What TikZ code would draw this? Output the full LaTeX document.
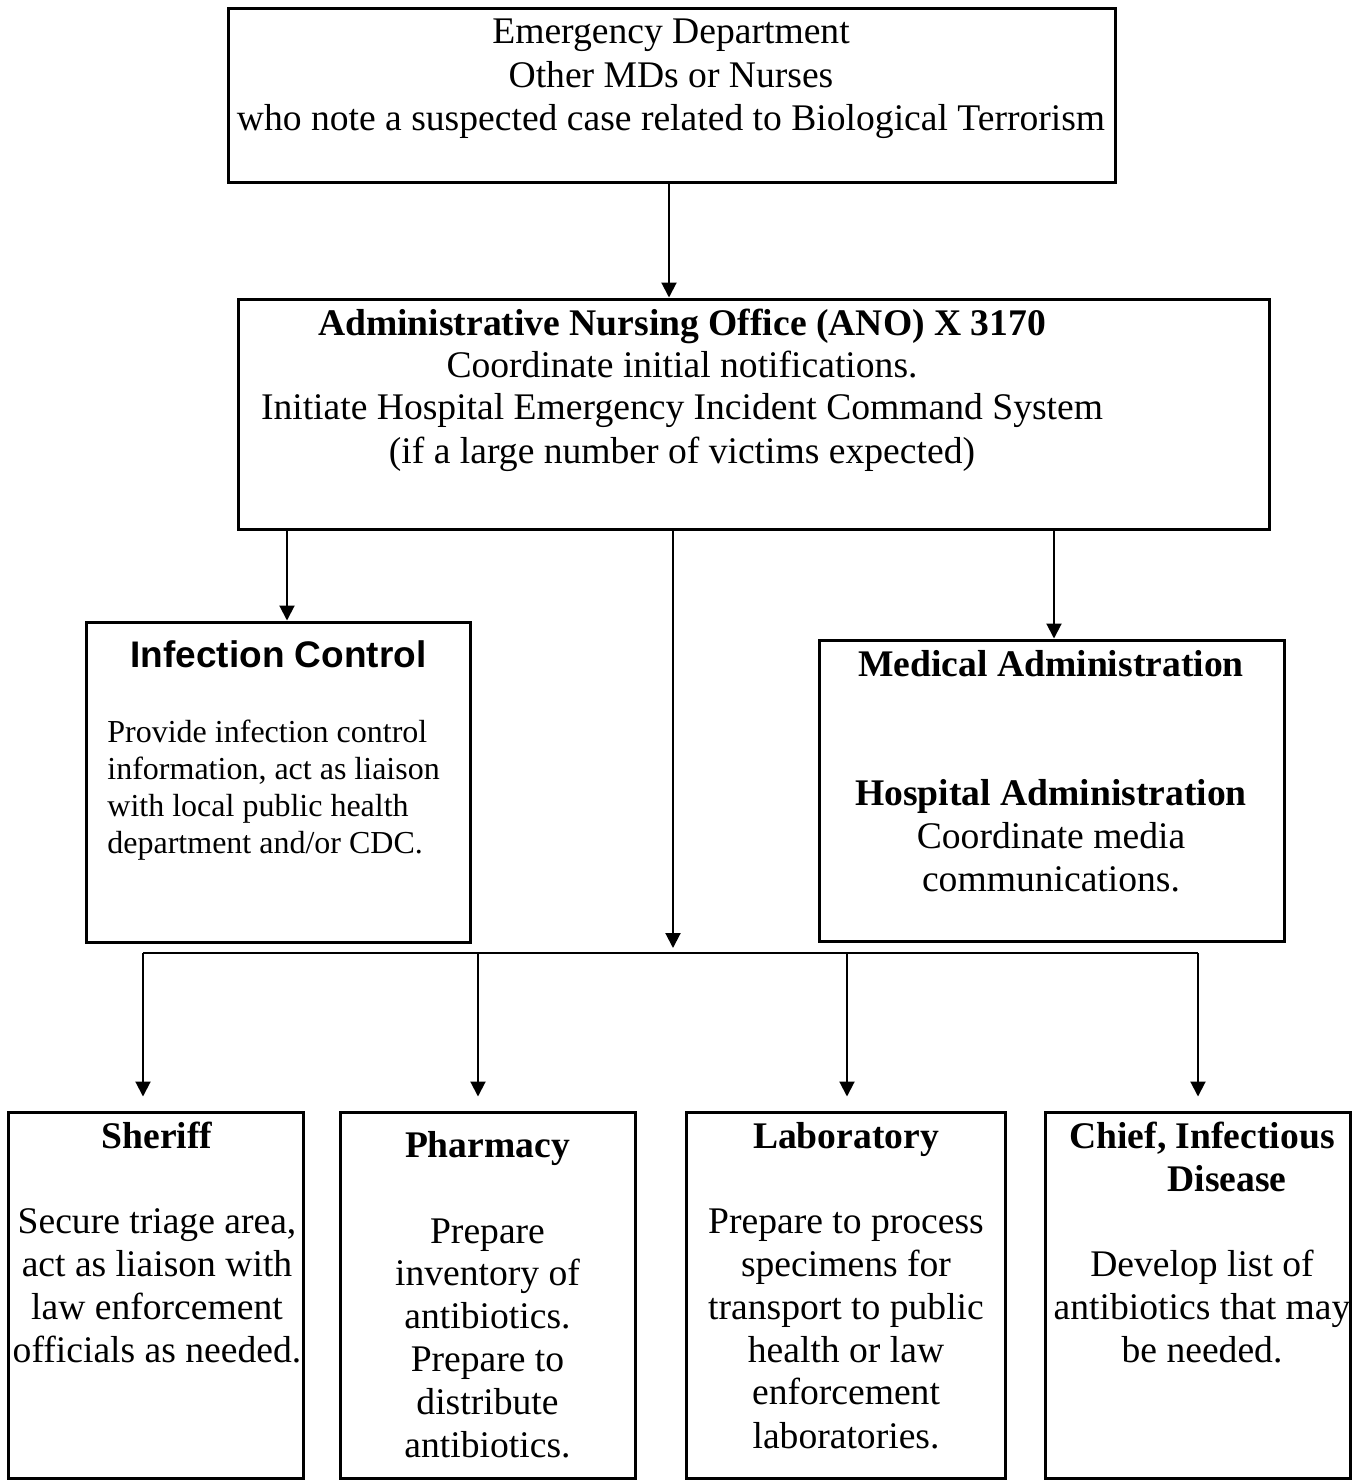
\documentclass[tikz,border=0pt]{standalone}
\usepackage{fontspec}
\setmainfont{Liberation Serif}
\newfontfamily\arialfont{Liberation Sans}
\usetikzlibrary{arrows.meta}
\begin{document}
\begin{tikzpicture}[x=0.5pt,y=-0.5pt,
  box/.style={draw, line width=1.5pt, inner sep=0pt},
  txt/.style={anchor=base, inner sep=0pt, font=\fontsize{18.8}{22}\selectfont},
  btxt/.style={txt, font=\fontsize{18.8}{22}\selectfont\bfseries},
  stxt/.style={anchor=base west, inner sep=0pt, font=\fontsize{16}{19}\selectfont},
  ttl/.style={anchor=base, inner sep=0pt, font=\fontsize{18.5}{22}\selectfont\arialfont\bfseries},
  conn/.style={line width=1pt},
  arr/.style={conn, -{Triangle[length=7.5pt,width=7.5pt]}}]
\useasboundingbox (0,0) rectangle (1356,1480);

% boxes
\node[box, minimum width=443.5pt, minimum height=87pt] (top) at (671.5,95) {};
\node[box, minimum width=515.5pt, minimum height=115pt] (ano) at (753.5,414) {};
\node[box, minimum width=192pt, minimum height=160pt] (ic) at (278,782) {};
\node[box, minimum width=232.5pt, minimum height=150.5pt] (ma) at (1051.5,790.5) {};
\node[box, minimum width=147.5pt, minimum height=183pt] (sh) at (155.5,1295) {};
\node[box, minimum width=147.5pt, minimum height=183pt] (ph) at (487.5,1295) {};
\node[box, minimum width=159.5pt, minimum height=183pt] (lab) at (845.5,1295) {};
\node[box, minimum width=152.5pt, minimum height=183pt] (chief) at (1197.5,1295) {};

% top box text
\node[txt] (top1) at (671,43) {Emergency Department};
\node[txt] (top2) at (671,87) {Other MDs or Nurses};
\node[txt] (top3) at (671,130) {who note a suspected case related to Biological Terrorism};

% ANO text
\node[btxt] (ano1) at (682,335) {Administrative Nursing Office (ANO) X 3170};
\node[txt] (ano2) at (682,377) {Coordinate initial notifications.};
\node[txt] (ano3) at (682,419) {Initiate Hospital Emergency Incident Command System};
\node[txt] (ano4) at (682,463) {(if a large number of victims expected)};

% Infection control
\node[ttl] (ic0) at (278.5,667) {Infection Control};
\node[stxt] (ic1) at (107,742) {Provide infection control};
\node[stxt] (ic2) at (107,779) {information, act as liaison};
\node[stxt] (ic3) at (107,816) {with local public health};
\node[stxt] (ic4) at (107,853) {department and/or CDC.};

% Medical administration
\node[btxt] (ma1) at (1051,676) {Medical Administration};
\node[btxt] (ma2) at (1051,805) {Hospital Administration};
\node[txt] (ma3) at (1051,848) {Coordinate media};
\node[txt] (ma4) at (1051,891) {communications.};

% Sheriff
\node[btxt] (sh0) at (157,1148) {Sheriff};
\node[txt] (sh1) at (157,1233) {Secure triage area,};
\node[txt] (sh2) at (157,1276) {act as liaison with};
\node[txt] (sh3) at (157,1319) {law enforcement};
\node[txt] (sh4) at (157,1362) {officials as needed.};

% Pharmacy
\node[btxt] (ph0) at (487.5,1157) {Pharmacy};
\node[txt] (ph1) at (487.5,1243) {Prepare};
\node[txt] (ph2) at (487.5,1285) {inventory of};
\node[txt] (ph3) at (487.5,1328) {antibiotics.};
\node[txt] (ph4) at (487.5,1371) {Prepare to};
\node[txt] (ph5) at (487.5,1414) {distribute};
\node[txt] (ph6) at (487.5,1457) {antibiotics.};

% Laboratory
\node[btxt] (lab0) at (846,1148) {Laboratory};
\node[txt] (lab1) at (846,1233) {Prepare to process};
\node[txt] (lab2) at (846,1276) {specimens for};
\node[txt] (lab3) at (846,1319) {transport to public};
\node[txt] (lab4) at (846,1362) {health or law};
\node[txt] (lab5) at (846,1404) {enforcement};
\node[txt] (lab6) at (846,1448) {laboratories.};

% Chief
\node[btxt] (ch0) at (1202,1148) {Chief, Infectious};
\node[btxt] (ch1) at (1227,1191) {Disease};
\node[txt] (ch2) at (1202,1276) {Develop list of};
\node[txt] (ch3) at (1202,1319) {antibiotics that may};
\node[txt] (ch4) at (1202,1362) {be needed.};

% connector coordinates
\coordinate (aIC) at (287,529);
\coordinate (aMA) at (1054,529);
\coordinate (aC) at (673,529);
\coordinate (busC) at (673,953);
\coordinate (d1) at (143,953);
\coordinate (d2) at (478,953);
\coordinate (d3) at (847,953);
\coordinate (d4) at (1198,953);

% connectors
\draw[arr] (top.south -| 669,0) -- (ano.north -| 669,0);
\draw[arr] (aIC |- ano.south) -- (aIC |- ic.north);
\draw[arr] (aMA |- ano.south) -- (aMA |- ma.north);
\draw[arr, shorten >=2.5pt] (aC |- ano.south) -- (busC);
\draw[conn] (d1) -- (d4);
\draw[arr, shorten >=7pt] (d1) -- (d1 |- sh.north);
\draw[arr, shorten >=7pt] (d2) -- (d2 |- ph.north);
\draw[arr, shorten >=7pt] (d3) -- (d3 |- lab.north);
\draw[arr, shorten >=7pt] (d4) -- (d4 |- chief.north);
\end{tikzpicture}
\end{document}
